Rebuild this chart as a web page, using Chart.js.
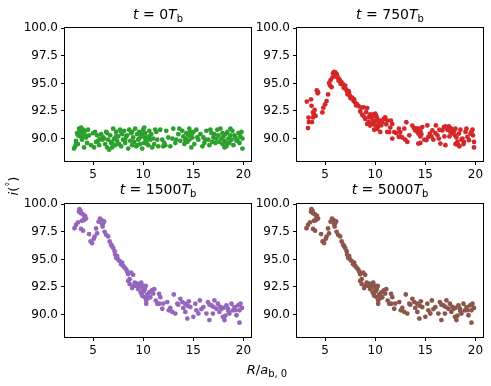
<!DOCTYPE html>
<html>
<head>
<meta charset="utf-8">
<script src="https://cdn.jsdelivr.net/npm/chart.js@4.4.0/dist/chart.umd.min.js"></script>
<style>
  body { margin: 0; background: #fff; }
  #wrap { position: relative; width: 491px; height: 386px; font-family: "DejaVu Sans", sans-serif; }
  canvas { position: absolute; }
  .lbl { position: absolute; font-size: 14px; color: #000; white-space: nowrap; transform: translate(-50%, -50%); }
  .lbl i { font-style: italic; }
  .lbl sub { font-size: 10px; vertical-align: -3px; }
  .lbl sup { font-size: 10px; vertical-align: 5px; }
  .ax { font-size: 13px; }
</style>
</head>
<body>
<div id="wrap">
  <canvas id="c0" width="250" height="163" style="left:5px;top:18px"></canvas>
  <canvas id="c750" width="250" height="163" style="left:237px;top:18px"></canvas>
  <canvas id="c1500" width="250" height="163" style="left:5px;top:194px"></canvas>
  <canvas id="c5000" width="250" height="163" style="left:237px;top:194px"></canvas>

  <div class="lbl" style="left:158px;top:15px"><i>t</i> = 0<i>T</i><sub>b</sub></div>
  <div class="lbl" style="left:390px;top:15px"><i>t</i> = 750<i>T</i><sub>b</sub></div>
  <div class="lbl" style="left:158px;top:190px"><i>t</i> = 1500<i>T</i><sub>b</sub></div>
  <div class="lbl" style="left:390px;top:190px"><i>t</i> = 5000<i>T</i><sub>b</sub></div>

  <div class="lbl ax" style="left:267px;top:370px"><i>R</i>/<i>a</i><sub>b, 0</sub></div>
  <div class="lbl ax" style="left:12px;top:186px;transform:translate(-50%,-50%) rotate(-90deg)"><i>i</i>(<sup>&deg;</sup>)</div>
</div>

<script>
// tick values
const xTicks = [5, 10, 15, 20];
const yTicks = [90, 92.5, 95, 97.5, 100];

// t = 0
const r0 = [3.1, 3.2, 3.3, 3.4, 3.5, 3.6, 3.6, 3.7, 3.7, 3.8, 3.8, 3.9, 3.9, 4.0, 4.0, 4.1, 4.2, 4.3, 4.4, 4.6,
  4.8, 5.0, 5.1, 5.2, 5.4, 5.5, 5.6, 5.8, 5.9, 6.0, 6.2, 6.3, 6.4, 6.5, 6.6, 6.7, 6.8, 6.9, 7.0, 7.1,
  7.2, 7.3, 7.4, 7.5, 7.6, 7.7, 7.8, 7.9, 8.0, 8.1, 8.2, 8.4, 8.5, 8.6, 8.7, 8.8, 8.9, 9.0, 9.1, 9.2,
  9.3, 9.4, 9.5, 9.6, 9.7, 9.8, 9.9, 10.0, 10.0, 10.1, 10.1, 10.2, 10.3, 10.4, 10.5, 10.6, 10.7, 10.8, 10.9, 11.0,
  11.1, 11.3, 11.5, 11.7, 11.9, 12.0, 12.2, 12.5, 12.7, 13.0, 13.2, 13.5, 13.7, 13.9, 14.0, 14.1, 14.2, 14.3, 14.4, 14.5,
  14.6, 14.7, 14.8, 14.9, 15.1, 15.3, 15.5, 15.7, 15.9, 16.0, 16.1, 16.3, 16.5, 16.6, 16.8, 17.0, 17.2, 17.4, 17.5, 17.6,
  17.7, 17.8, 17.9, 18.0, 18.1, 18.2, 18.3, 18.4, 18.5, 18.6, 18.7, 18.8, 18.9, 19.0, 19.2, 19.3, 19.5, 19.6, 19.7, 19.8,
  19.9, 19.9, 4.5, 6.1, 8.3, 11.2, 12.3, 13.3, 15.0, 16.9,
  3.3, 3.5, 3.9, 4.2, 5.3, 5.7, 6.4, 6.9, 7.3, 7.8, 8.2, 8.9, 9.4, 9.8, 10.4, 10.6, 11.4, 12.1, 12.9, 13.6,
  14.2, 14.8, 15.4, 16.2, 16.7, 17.3, 17.9, 18.3, 18.7, 19.4, 3.7, 4.0, 9.6, 10.2, 14.6, 17.1, 18.1, 19.1];
const i0 = [89.1, 89.3, 89.6, 90.5, 90.3, 90.9, 90.4, 90.7, 90.2, 91.0, 90.6, 90.4, 89.9, 90.8, 90.5, 89.2, 90.7, 90.1, 89.6, 90.3,
  89.4, 90.5, 89.2, 90.6, 90.3, 89.8, 89.4, 90.4, 89.9, 90.1, 89.5, 90.6, 89.2, 89.9, 89.0, 90.3, 89.6, 89.2, 90.9, 90.0,
  89.4, 90.6, 89.8, 90.2, 89.5, 90.8, 89.3, 90.4, 89.9, 90.7, 89.6, 90.3, 89.1, 90.8, 89.8, 90.5, 89.4, 90.1, 89.7, 90.9,
  89.3, 90.4, 89.9, 90.6, 89.5, 90.2, 89.1, 90.8, 90.3, 89.6, 91.0, 90.5, 89.8, 90.1, 89.4, 90.7, 89.9, 90.4, 89.2, 90.0,
  89.5, 90.6, 89.3, 90.8, 89.9, 89.3, 89.4, 90.1, 89.3, 90.9, 89.6, 90.4, 89.8, 90.7, 90.2, 89.5, 90.0, 90.5, 89.7, 90.3,
  89.9, 90.6, 89.2, 90.1, 89.5, 90.8, 89.9, 90.4, 89.3, 90.1, 89.6, 90.7, 89.9, 89.4, 90.5, 90.1, 89.6, 90.8, 90.3, 89.7,
  90.9, 90.0, 89.5, 90.2, 89.8, 90.4, 89.3, 90.6, 90.0, 89.6, 90.3, 89.9, 90.7, 89.4, 90.1, 89.8, 90.5, 89.6, 90.2, 90.6,
  89.1, 90.0, 90.8, 90.0, 90.2, 90.8, 90.7, 89.9, 90.6, 89.7,
  89.8, 89.5, 90.7, 90.3, 89.7, 90.0, 90.5, 89.7, 90.2, 90.6, 89.9, 90.6, 89.4, 90.5, 89.5, 90.2, 89.9, 89.6, 90.0, 90.9,
  89.8, 90.4, 90.1, 89.9, 90.8, 90.0, 90.5, 89.6, 90.9, 89.9, 90.3, 90.2, 90.0, 90.0, 90.9, 90.4, 89.2, 90.3];

// t = 750
const r750 = [3.18, 3.3, 3.38, 3.35, 3.6, 3.65, 3.7, 3.8, 3.8, 3.9, 3.95, 4.05, 4.17, 4.26, 4.3, 4.73, 4.83, 5.0, 5.15, 5.3,
  5.4, 5.5, 5.65, 5.75, 5.8, 5.9, 6.0, 6.07, 6.15, 6.3, 6.35, 6.45, 6.55, 6.6, 6.8, 6.85, 6.95, 7.1, 7.2, 7.25,
  7.4, 7.5, 7.55, 7.7, 7.85, 8.0, 8.2, 8.35, 8.5, 8.7, 8.85, 8.85, 9.0, 9.2, 9.2, 9.35, 9.35, 9.5, 9.5, 9.7,
  9.7, 9.85, 9.85, 10.0, 10.0, 10.1, 10.2, 10.2, 10.35, 10.5, 10.5, 10.7, 10.85, 11.0, 11.2, 11.2, 9.6, 10.05, 9.9, 10.3,
  11.4, 11.57, 11.7, 11.7, 11.9, 12.36, 12.36, 12.5, 12.7, 13.0, 13.1, 13.2, 13.7, 13.85, 14.0, 14.2, 14.3, 14.3, 14.35, 14.5,
  14.5, 14.7, 15.1, 15.2, 15.3, 15.45, 15.7, 16.05, 16.2, 16.35, 16.5, 16.7, 16.85, 17.0, 17.2, 17.35, 17.5, 17.7, 17.85, 17.95,
  18.1, 18.2, 18.3, 18.35, 18.5, 18.7, 18.85, 19.0, 19.2, 19.35, 19.5, 19.7, 19.75, 19.85, 19.85, 12.5, 14.5, 15.8, 17.0, 18.0,
  18.8, 18.4, 14.1, 16.0, 17.6,
  5.55, 5.95, 6.2, 6.7, 7.0, 7.35, 7.9, 8.1, 8.6, 9.1, 9.45, 9.75, 10.15, 10.6, 11.1, 11.5, 12.1, 12.9, 13.4, 14.15,
  14.6, 14.9, 15.6, 16.4, 16.9, 17.4, 18.0, 18.6, 19.1, 19.6];
const i750 = [93.35, 90.95, 91.5, 91.9, 93.56, 92.97, 91.5, 92.37, 91.92, 92.2, 92.6, 92.05, 94.36, 94.1, 94.2, 92.37, 92.8, 93.1, 93.4, 94.0,
  95.04, 94.8, 94.66, 95.55, 95.93, 96.05, 96.0, 95.64, 95.85, 95.5, 95.25, 95.34, 94.95, 95.13, 94.9, 94.6, 94.66, 94.45, 94.25, 94.0,
  94.15, 93.85, 93.65, 93.7, 93.4, 93.26, 93.1, 92.95, 92.46, 92.17, 92.82, 92.02, 91.78, 92.76, 91.33, 91.93, 91.48, 92.2, 91.18, 91.93,
  91.33, 92.2, 91.48, 92.27, 91.18, 92.07, 91.78, 90.88, 91.33, 91.63, 90.6, 91.48, 91.78, 91.93, 91.63, 90.6, 91.9, 91.6, 90.8, 91.1,
  90.59, 91.63, 91.33, 90.0, 90.59, 90.89, 90.15, 90.59, 90.1, 89.9, 91.48, 89.7, 91.18, 90.97, 90.74, 90.6, 90.45, 89.55, 90.89, 90.67,
  90.2, 91.04, 89.86, 91.19, 90.15, 90.45, 90.74, 91.19, 90.3, 90.0, 89.55, 90.74, 91.04, 91.1, 90.8, 91.1, 90.6, 90.45, 90.67, 90.3,
  90.1, 89.7, 89.4, 90.45, 90.8, 90.0, 89.7, 90.6, 90.15, 89.86, 90.45, 90.8, 90.3, 89.7, 89.2, 90.2, 89.6, 89.9, 89.4, 89.5,
  89.5, 89.3, 90.9, 90.5, 90.9,
  95.3, 96.0, 95.7, 95.0, 94.8, 94.3, 93.55, 93.0, 92.8, 92.4, 92.0, 91.6, 91.9, 91.2, 91.3, 91.0, 90.5, 90.9, 90.3, 90.9,
  90.4, 89.9, 90.2, 90.8, 90.2, 90.2, 90.9, 89.9, 90.9, 90.6];

// t = 1500
const r1500 = [3.15, 3.3, 3.5, 3.6, 3.64, 3.7, 3.8, 3.8, 3.9, 4.0, 4.0, 4.1, 4.2, 4.3, 4.6, 4.75, 4.9, 5.07, 5.15, 5.3,
  5.4, 5.55, 5.7, 5.85, 5.95, 6.0, 6.15, 6.3, 6.5, 6.65, 6.8, 7.0, 7.15, 7.2, 7.3, 7.5, 7.65, 7.8, 8.0, 8.15,
  8.3, 8.5, 8.8, 9.0, 8.65, 8.5, 8.65, 9.0, 9.15, 9.3, 9.5, 9.7, 9.8, 10.0, 10.15, 9.75, 9.9, 10.15, 10.3, 10.6,
  10.85, 11.1, 10.7, 11.25, 11.4, 10.3, 9.6, 10.05, 10.4, 9.95, 10.25, 9.85,
  11.58, 11.7, 11.6, 11.9, 12.4, 12.55, 12.9, 13.05, 13.2, 13.4, 13.7, 13.9, 14.2, 14.55, 14.7, 14.4, 14.2, 15.0, 15.2, 15.3,
  15.65, 16.0, 16.3, 16.45, 16.6, 16.8, 16.95, 17.1, 17.3, 17.45, 17.6, 17.8, 17.95, 18.1, 18.3, 18.45, 18.6, 18.8, 18.95, 19.1,
  19.3, 19.45, 19.6, 19.6, 19.7, 14.0, 15.5, 17.0, 18.2, 19.2,
  3.75, 4.15, 5.9, 6.1, 6.9, 7.4, 7.9, 8.4, 8.9, 9.4, 10.5, 11.0, 12.0, 12.7, 13.5, 14.45, 15.8, 16.6, 17.7, 18.5, 18.0, 19.85];
const i1500 = [97.82, 98.12, 98.36, 99.31, 99.55, 99.35, 99.17, 97.76, 98.5, 99.07, 97.6, 98.56, 98.95, 98.7, 97.29, 96.63, 96.48, 96.86, 97.07, 97.8,
  97.35, 98.42, 98.7, 98.56, 97.97, 98.27, 97.5, 97.23, 97.08, 96.63, 96.33, 96.04, 95.74, 95.44, 95.14, 95.0, 94.85, 94.55, 94.4, 94.25,
  94.1, 93.66, 93.8, 93.6, 93.2, 93.05, 92.76, 92.6, 92.9, 92.6, 92.3, 92.76, 92.9, 92.6, 92.3, 92.0, 91.7, 91.57, 91.27, 92.0,
  92.2, 92.3, 91.57, 91.27, 90.98, 90.98, 92.5, 92.1, 91.8, 92.4, 92.6, 91.9,
  91.88, 91.58, 90.98, 90.53, 91.13, 90.39, 90.24, 91.82, 90.09, 90.98, 91.43, 91.13, 90.98, 91.2, 90.68, 89.64, 90.24, 89.8, 90.98, 90.39,
  91.28, 90.68, 90.09, 91.13, 89.5, 90.83, 90.09, 91.28, 90.53, 90.98, 90.24, 90.53, 89.8, 89.5, 90.83, 90.53, 90.09, 90.98, 90.39, 90.68,
  89.94, 90.83, 90.39, 89.27, 90.98, 90.6, 90.1, 90.7, 89.9, 90.4,
  99.4, 98.8, 98.2, 98.45, 96.2, 95.3, 94.7, 93.9, 92.4, 92.8, 91.5, 91.9, 91.0, 90.6, 90.9, 90.8, 90.5, 90.9, 90.7, 90.3, 90.6, 90.6];

// t = 5000 (same distribution as 1500 in the figure)
const r5000 = r1500;
const i5000 = i1500;

function toPoints(xs, ys) {
  return xs.map((x, k) => ({ x: x, y: ys[k] }));
}

const frame = {
  id: 'frame',
  afterDraw(chart) {
    const a = chart.chartArea;
    const ctx = chart.ctx;
    ctx.save();
    ctx.strokeStyle = '#000';
    ctx.lineWidth = 1;
    ctx.strokeRect(Math.round(a.left) - 0.5, Math.round(a.top) - 0.5,
      Math.round(a.right - a.left) + 1, Math.round(a.bottom - a.top) + 1);
    ctx.restore();
  }
};

function makePanel(id, xs, ys, color) {
  const tickFont = { family: 'DejaVu Sans', size: 12 };
  new Chart(document.getElementById(id), {
    type: 'scatter',
    data: {
      datasets: [{
        data: toPoints(xs, ys),
        backgroundColor: color,
        borderWidth: 0,
        pointRadius: 2.4,
        pointHoverRadius: 2.4
      }]
    },
    options: {
      responsive: false,
      animation: false,
      layout: { padding: { top: 8, right: 4, bottom: 0, left: 0 } },
      plugins: { legend: { display: false }, tooltip: { enabled: false } },
      scales: {
        x: {
          type: 'linear',
          min: 2.2,
          max: 20.75,
          afterBuildTicks: s => { s.ticks = xTicks.map(v => ({ value: v })); },
          afterFit: s => { s.height = 20; },
          grid: { drawOnChartArea: false, drawTicks: true, tickLength: 4, color: '#000' },
          border: { display: false },
          ticks: { color: '#000', font: tickFont, padding: 3, maxRotation: 0 }
        },
        y: {
          type: 'linear',
          min: 87.97,
          max: 100,
          afterBuildTicks: s => { s.ticks = yTicks.map(v => ({ value: v })); },
          afterFit: s => { s.width = 60; },
          grid: { drawOnChartArea: false, drawTicks: true, tickLength: 4, color: '#000' },
          border: { display: false },
          ticks: { color: '#000', font: tickFont, padding: 3, callback: v => v.toFixed(1) }
        }
      }
    },
    plugins: [frame]
  });
}

makePanel('c0', r0, i0, '#2ca02c');
makePanel('c750', r750, i750, '#d62728');
makePanel('c1500', r1500, i1500, '#9467bd');
makePanel('c5000', r5000, i5000, '#8c564b');
</script>
</body>
</html>
